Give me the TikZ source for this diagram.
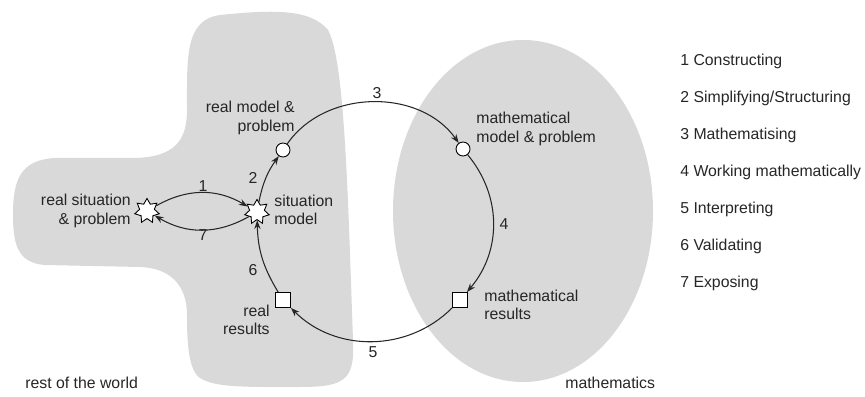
\documentclass[tikz,border=0pt]{standalone}
\usepackage{fontspec}
\setmainfont{Liberation Sans}
\usetikzlibrary{shapes.geometric,arrows.meta}
\definecolor{blobgray}{RGB}{217,217,217}

\begin{document}
\begin{tikzpicture}[x=0.02cm, y=0.02cm, font=\fontsize{9pt}{10.5pt}\selectfont,
  starnode/.style={star, star points=7, star point ratio=1.65, minimum size=0.5cm, inner sep=0pt, draw, fill=white, line width=0.5pt},
  dotnode/.style={circle, draw, fill=white, minimum size=0.28cm, inner sep=0pt, line width=0.5pt},
  boxnode/.style={rectangle, draw, fill=white, minimum size=0.3cm, inner sep=0pt, line width=0.5pt},
  txt/.style={inner sep=0pt, text=black!85},
  flow/.style={-{Stealth[length=5pt,width=3.6pt]}, line width=0.6pt, black!85}]
			\useasboundingbox (0,0) rectangle (865,396);

			% the two worlds
			\fill[blobgray] (220,381) .. controls (270,386) and (310,388) .. (328,366)
				.. controls (345,336) and (348,196) .. (353,56)
				.. controls (355,16) and (345,9) .. (300,9)
				.. controls (250,9) and (215,8) .. (200,18)
				.. controls (188,26) and (187,56) .. (187,81)
				.. controls (187,111) and (170,128) .. (140,129)
				-- (45,131)
				.. controls (18,133) and (13,151) .. (13,181)
				.. controls (13,216) and (20,236) .. (55,238)
				-- (135,238)
				.. controls (175,239) and (187,256) .. (187,286)
				.. controls (187,340) and (185,376) .. (220,381) -- cycle;
			\fill[blobgray] (523,185) ellipse [x radius=130, y radius=171];

			\node[starnode] (realsit) at (147, 185) {};
			\node[starnode] (sitmodel) at (257, 184) {};
			\node[dotnode] (realmodel) at (283, 246) {};
			\node[dotnode] (mathmodel) at (463, 247) {};
			\node[boxnode] (mathres) at (460, 96) {};
			\node[boxnode] (realres) at (283, 96) {};

			\node[txt, anchor=east, align=right] (l-realsit) at (131, 185) {real situation\\\& problem};
			\node[txt, anchor=west, align=left] (l-sitmodel) at (274, 186) {situation\\model};
			\node[txt, anchor=east, align=right] (l-realmodel) at (295, 278) {real model \&\\problem};
			\node[txt, anchor=west, align=left] (l-mathmodel) at (476, 267) {mathematical\\model \& problem};
			\node[txt, anchor=west, align=left] (l-mathres) at (484, 91) {mathematical\\results};
			\node[txt, anchor=east, align=right] (l-realres) at (270, 76) {real\\results};
			\node[txt, anchor=west] (l-rest) at (25, 13) {rest of the world};
			\node[txt, anchor=west] (l-math) at (565, 13) {mathematics};

			\node[txt] (n1) at (203, 210) {1};
			\node[txt] (n2) at (253, 218) {2};
			\node[txt] (n3) at (377, 303) {3};
			\node[txt] (n4) at (504, 172) {4};
			\node[txt] (n5) at (373, 44) {5};
			\node[txt] (n6) at (253, 126) {6};
			\node[txt] (n7) at (203, 161) {7};

			\draw[flow] (realsit) to[bend left=30] (sitmodel);
			\draw[flow] (sitmodel) to[bend left=30] (realsit);
			\draw[flow] (sitmodel) to[bend left=12] (realmodel);
			\draw[flow] (realmodel) to[bend left=55] (mathmodel);
			\draw[flow] (mathmodel) to[bend left=40] (mathres);
			\draw[flow] (mathres) to[bend left=45] (realres);
			\draw[flow] (realres) to[bend left=15] (sitmodel);

			\foreach \i/\t in {1/Constructing, 2/{Simplifying/Structuring}, 3/Mathematising, 4/Working mathematically, 5/Interpreting, 6/Validating, 7/Exposing}
				\node[txt, anchor=west] (leg\i) at (680, 372-37*\i) {\i\ \t};
		\end{tikzpicture}
\end{document}
